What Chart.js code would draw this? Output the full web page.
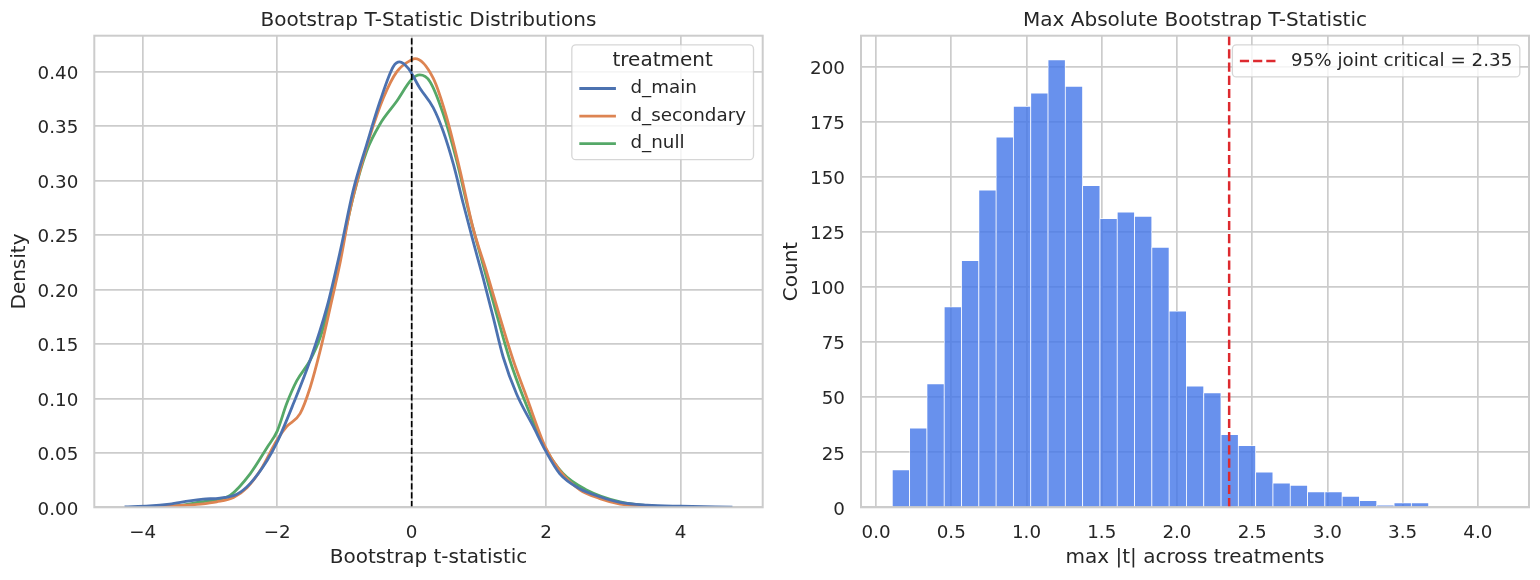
<!DOCTYPE html>
<html>
<head>
<meta charset="utf-8">
<script src="https://cdn.jsdelivr.net/npm/chart.js@4.4.1/dist/chart.umd.min.js"></script>
<style>
  html, body { margin: 0; padding: 0; background: #ffffff; }
  #wrap { position: relative; width: 1540px; height: 580px; }
  .panel { position: absolute; top: 0; height: 580px; }
  #leftPanel { left: 0; width: 780px; }
  #rightPanel { left: 780px; width: 760px; }
</style>
</head>
<body>
<div id="wrap">
  <div class="panel" id="leftPanel"><canvas id="kdeChart" width="780" height="580"></canvas></div>
  <div class="panel" id="rightPanel"><canvas id="histChart" width="760" height="580"></canvas></div>
</div>
<script>
// ---- data ----

// left panel: KDE of bootstrap t-statistics per treatment
const TREATMENTS = ["d_main", "d_secondary", "d_null"];

const MAIN_X = [-4.27, -3.9, -3.6, -3.3, -3.1, -2.85, -2.6, -2.4, -2.15, -2.0, -1.76, -1.51, -1.26,
  -1.06, -0.87, -0.67, -0.47, -0.27, -0.18, -0.05, 0.12, 0.32, 0.47, 0.62, 0.77, 0.91, 1.06,
  1.21, 1.36, 1.56, 1.81, 1.99, 2.2, 2.5, 2.8, 3.1, 3.5, 4.0, 4.77];
const MAIN_Y = [0.0003, 0.0012, 0.003, 0.006, 0.0075, 0.0085, 0.012, 0.022, 0.043, 0.060, 0.095,
  0.135, 0.184, 0.236, 0.291, 0.333, 0.373, 0.405, 0.409, 0.403, 0.385, 0.367, 0.345, 0.315,
  0.278, 0.245, 0.211, 0.175, 0.138, 0.104, 0.074, 0.052, 0.031, 0.017, 0.0097, 0.0045, 0.002,
  0.001, 0.0002];

const SECONDARY_X = [-3.9, -3.5, -3.14, -2.9, -2.65, -2.45, -2.25, -2.0, -1.86, -1.66, -1.51, -1.36,
  -1.21, -1.06, -0.92, -0.77, -0.62, -0.42, -0.22, 0.0, 0.05, 0.32, 0.52, 0.72, 0.91, 1.11,
  1.31, 1.51, 1.71, 1.99, 2.2, 2.5, 2.8, 3.1, 3.5, 3.9];
const SECONDARY_Y = [0.0003, 0.0015, 0.003, 0.005, 0.009, 0.018, 0.034, 0.062, 0.074, 0.086, 0.110,
  0.144, 0.184, 0.226, 0.272, 0.309, 0.341, 0.376, 0.400, 0.411, 0.412, 0.394, 0.358, 0.309,
  0.257, 0.217, 0.175, 0.135, 0.101, 0.055, 0.034, 0.016, 0.008, 0.003, 0.001, 0.0002];

const NULL_X = [-3.7, -3.4, -3.14, -2.9, -2.7, -2.4, -2.15, -2.0, -1.86, -1.71, -1.51, -1.36, -1.21,
  -1.06, -0.87, -0.67, -0.47, -0.22, 0.0, 0.12, 0.27, 0.47, 0.67, 0.87, 1.06, 1.26, 1.46, 1.66,
  1.99, 2.25, 2.6, 3.1, 3.6, 4.0];
const NULL_Y = [0.0005, 0.002, 0.005, 0.007, 0.011, 0.031, 0.055, 0.070, 0.095, 0.116, 0.135, 0.156,
  0.190, 0.232, 0.285, 0.327, 0.352, 0.373, 0.393, 0.397, 0.391, 0.361, 0.318, 0.266, 0.223,
  0.178, 0.135, 0.101, 0.054, 0.031, 0.016, 0.005, 0.001, 0.0002];

const KDE_X_TICKS = [-4, -2, 0, 2, 4];
const DENSITY_TICKS = [0, 0.05, 0.10, 0.15, 0.20, 0.25, 0.30, 0.35, 0.40];

// right panel: histogram of max |t|
const BIN_START = 0.108;
const BIN_WIDTH = 0.115;
const MAXT_COUNTS = [17, 36, 56, 91, 112, 144, 168, 182, 188, 203, 191, 146, 131, 134, 132, 118,
  89, 55, 52, 33, 28, 16, 11, 10, 7, 7, 5, 3, 1, 2, 2];
const CRITICAL = 2.347;
const MAXT_TICKS = [0, 0.5, 1.0, 1.5, 2.0, 2.5, 3.0, 3.5, 4.0];
const COUNT_TICKS = [0, 25, 50, 75, 100, 125, 150, 175, 200];

// ---- styling ----
const FONT = "'DejaVu Sans', sans-serif";
const TEXT = "#262626";
const GRID = "#cccccc";
const COLORS = ["#4c72b0", "#dd8452", "#55a868"];

Chart.defaults.font.family = FONT;
Chart.defaults.color = TEXT;

function fmtMinus(v) {
  return v < 0 ? "\u2212" + Math.abs(v) : String(v);
}

function toPoints(xs, ys) {
  return xs.map((x, i) => ({ x: x, y: ys[i] }));
}

// draw all four spines on top of the data
const framePlugin = {
  id: "frame",
  afterDatasetsDraw(chart) {
    const { ctx, chartArea: a } = chart;
    ctx.save();
    ctx.strokeStyle = GRID;
    ctx.lineWidth = 2;
    ctx.strokeRect(a.left, a.top, a.right - a.left, a.bottom - a.top);
    ctx.restore();
  },
};

// matplotlib-like legend box inside the upper right corner
const boxLegendPlugin = {
  id: "boxLegend",
  afterDatasetsDraw(chart, args, opts) {
    const items = chart.data.datasets.filter((d) => d.label && !d.noLegend);
    const { ctx, chartArea: a } = chart;
    const pad = opts.pad;
    ctx.save();
    ctx.font = opts.fontSize + "px " + FONT;
    const textW = Math.max(...items.map((d) => ctx.measureText(d.label).width));
    let w = pad * 2 + opts.handleLength + opts.handleGap + textW;
    let titleH = 0;
    if (opts.title) {
      ctx.font = opts.titleSize + "px " + FONT;
      w = Math.max(w, ctx.measureText(opts.title).width + pad * 2);
      titleH = opts.rowHeight;
    }
    const h = opts.edge * 2 + titleH + (items.length - 1) * opts.rowHeight;
    const x0 = a.right - opts.margin - w;
    const y0 = a.top + opts.margin;

    ctx.beginPath();
    ctx.roundRect(x0, y0, w, h, 4);
    ctx.fillStyle = "rgba(255,255,255,0.8)";
    ctx.fill();
    ctx.strokeStyle = "rgba(204,204,204,0.8)";
    ctx.lineWidth = 1.3;
    ctx.stroke();

    let y = y0 + opts.edge;
    ctx.fillStyle = TEXT;
    ctx.textBaseline = "middle";
    if (opts.title) {
      ctx.textAlign = "center";
      ctx.fillText(opts.title, x0 + w / 2, y);
      y += opts.rowHeight;
    }
    ctx.font = opts.fontSize + "px " + FONT;
    ctx.textAlign = "left";
    items.forEach((d) => {
      ctx.beginPath();
      ctx.setLineDash(d.borderDash || []);
      ctx.strokeStyle = d.borderColor;
      ctx.lineWidth = d.borderWidth;
      ctx.moveTo(x0 + pad, y);
      ctx.lineTo(x0 + pad + opts.handleLength, y);
      ctx.stroke();
      ctx.setLineDash([]);
      ctx.fillText(d.label, x0 + pad + opts.handleLength + opts.handleGap, y);
      y += opts.rowHeight;
    });
    ctx.restore();
  },
};

const legendBase = { pad: 7.5, handleLength: 36.6, handleGap: 14.6, rowHeight: 27.6, edge: 16, margin: 9.2, fontSize: 18.3 };

function axisX(min, max, ticks, fmt, label) {
  return {
    type: "linear",
    min: min,
    max: max,
    offset: false,
    afterBuildTicks: (s) => { s.ticks = ticks.map((v) => ({ value: v })); },
    afterFit: (s) => { s.height = 72.7; },
    ticks: { callback: fmt, padding: 14.7, font: { size: 18.3 }, color: TEXT, maxRotation: 0 },
    grid: { color: GRID, lineWidth: 1.7, drawTicks: false, offset: false },
    border: { display: false },
    title: { display: true, text: label, font: { size: 20 }, color: TEXT, padding: { top: 0, bottom: 10 } },
  };
}

function axisY(max, ticks, fmt, label, width, titlePad) {
  return {
    type: "linear",
    min: 0,
    max: max,
    afterBuildTicks: (s) => { s.ticks = ticks.map((v) => ({ value: v })); },
    afterFit: (s) => { s.width = width; },
    ticks: { callback: fmt, padding: 16, labelOffset: 2.6, font: { size: 18.3 }, color: TEXT },
    grid: { color: GRID, lineWidth: 1.7, drawTicks: false },
    border: { display: false },
    title: { display: true, text: label, font: { size: 20 }, color: TEXT, padding: { top: titlePad, bottom: 0 } },
  };
}

function titleOpts(text) {
  return {
    display: true,
    text: text,
    fullSize: false,
    color: TEXT,
    font: { size: 20, weight: "normal" },
    padding: { top: 8.8, bottom: 2.9 },
  };
}

// ---- left: KDE curves ----
const DENSITY_MAX = 0.433;
const kdeSeries = [toPoints(MAIN_X, MAIN_Y), toPoints(SECONDARY_X, SECONDARY_Y), toPoints(NULL_X, NULL_Y)];

new Chart(document.getElementById("kdeChart"), {
  type: "line",
  data: {
    datasets: [
      {
        label: "zero",
        noLegend: true,
        data: [{ x: 0, y: 0 }, { x: 0, y: DENSITY_MAX }],
        borderColor: "#000000",
        borderWidth: 1.7,
        borderDash: [6.2, 2.7],
        pointRadius: 0,
      },
    ].concat(
      TREATMENTS.map((name, i) => ({
        label: name,
        data: kdeSeries[i],
        borderColor: COLORS[i],
        borderWidth: 2.8,
        pointRadius: 0,
        cubicInterpolationMode: "monotone",
      }))
    ),
  },
  options: {
    responsive: false,
    animation: false,
    layout: { padding: { left: 0, right: 17.3, top: 0, bottom: 0 } },
    scales: {
      x: axisX(-4.72, 5.22, KDE_X_TICKS, (v) => fmtMinus(v), "Bootstrap t-statistic"),
      y: axisY(DENSITY_MAX, DENSITY_TICKS, (v) => v.toFixed(2), "Density", 94.3, 7.5),
    },
    plugins: {
      legend: { display: false },
      tooltip: { enabled: false },
      title: titleOpts("Bootstrap T-Statistic Distributions"),
      boxLegend: { ...legendBase, title: "treatment", titleSize: 20 },
    },
  },
  plugins: [framePlugin, boxLegendPlugin],
});

// ---- right: histogram of max |t| ----
const COUNT_MAX = 214;
const histPoints = MAXT_COUNTS.map((c, i) => ({ x: BIN_START + (i + 0.5) * BIN_WIDTH, y: c }));

new Chart(document.getElementById("histChart"), {
  type: "bar",
  data: {
    datasets: [
      {
        type: "line",
        label: "95% joint critical = " + CRITICAL.toFixed(2),
        data: [{ x: CRITICAL, y: 0 }, { x: CRITICAL, y: COUNT_MAX }],
        borderColor: "#dd2a2f",
        borderWidth: 2.5,
        borderDash: [9.2, 4],
        pointRadius: 0,
      },
      {
        type: "bar",
        label: "max |t|",
        noLegend: true,
        data: histPoints,
        backgroundColor: "rgba(66,117,232,0.8)",
        borderColor: "#ffffff",
        borderWidth: { left: 0.75, right: 0.75, top: 0.75, bottom: 0 },
        borderSkipped: false,
        barPercentage: 1,
        categoryPercentage: 1,
      },
    ],
  },
  options: {
    responsive: false,
    animation: false,
    layout: { padding: { left: 0, right: 11, top: 0, bottom: 0 } },
    scales: {
      x: axisX(-0.1, 4.34, MAXT_TICKS, (v) => v.toFixed(1), "max |t| across treatments"),
      y: axisY(COUNT_MAX, COUNT_TICKS, (v) => String(v), "Count", 81, 0),
    },
    plugins: {
      legend: { display: false },
      tooltip: { enabled: false },
      title: titleOpts("Max Absolute Bootstrap T-Statistic"),
      boxLegend: { ...legendBase },
    },
  },
  plugins: [framePlugin, boxLegendPlugin],
});
</script>
</body>
</html>
